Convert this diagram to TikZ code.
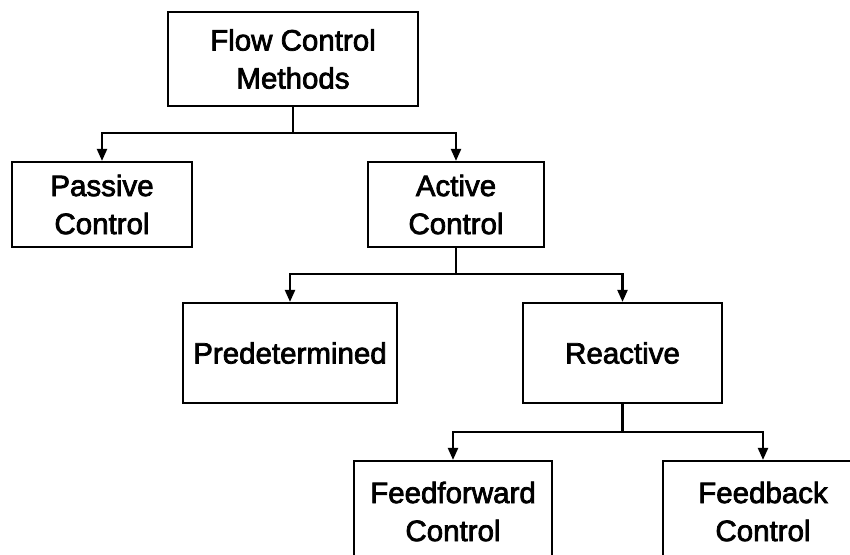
\documentclass[tikz,border=0pt]{standalone}
\usepackage{fontspec}
\setmainfont{Liberation Sans}
\newfontfamily\thickfont[FakeBold=2.5]{Liberation Sans}
\usetikzlibrary{arrows.meta}
\begin{document}
\begin{tikzpicture}[x=1pt,y=-1pt,
  box/.style={draw=black,line width=2.2pt,rectangle,inner sep=0pt,align=center,
    font=\thickfont\fontsize{29.5}{38}\selectfont},
  conn/.style={draw=black,line width=2.2pt},
  arr/.style={conn,-{Triangle[width=10pt,length=12pt]}}]
\clip (0,0) rectangle (850,554);
\fill[white] (0,0) rectangle (850,554);
\node[box,minimum width=250pt,minimum height=94pt] (fcm) at (293,59) {Flow Control\\Methods};
\node[box,minimum width=180pt,minimum height=85pt] (pas) at (102,204.5) {Passive\\Control};
\node[box,minimum width=176pt,minimum height=85pt] (act) at (456,204.5) {Active\\Control};
\node[box,minimum width=214pt,minimum height=100pt] (pre) at (290,353) {Predetermined};
\node[box,minimum width=199pt,minimum height=100pt] (rea) at (622.5,353) {Reactive};
\node[box,minimum width=198pt,minimum height=101pt] (ffw) at (453,511.5) {Feedforward\\Control};
\node[box,minimum width=200pt,minimum height=101pt] (fbk) at (763,511.5) {Feedback\\Control};
\coordinate (j1) at (293,133);
\coordinate (j2) at (456,274);
\coordinate (j3) at (622.5,432);
\draw[conn] (fcm.south) -- (j1);
\draw[arr] (j1) -| (pas.north);
\draw[arr] (j1) -| (act.north);
\draw[conn] (act.south) -- (j2);
\draw[arr] (j2) -| (pre.north);
\draw[arr] (j2) -| (rea.north);
\draw[conn] (rea.south) -- (j3);
\draw[arr] (j3) -| (ffw.north);
\draw[arr] (j3) -| (fbk.north);
\end{tikzpicture}
\end{document}
